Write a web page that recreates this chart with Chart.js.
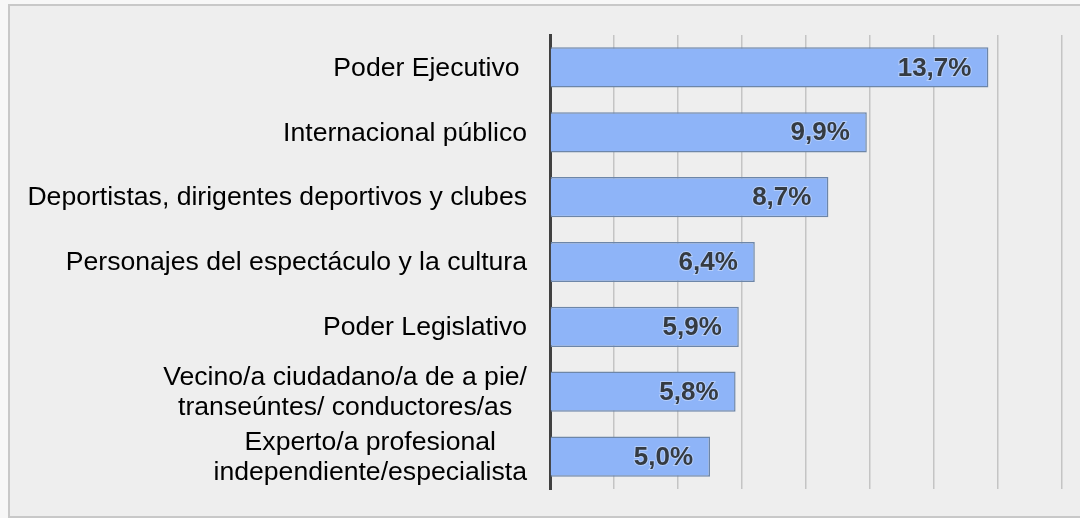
<!DOCTYPE html>
<html>
<head>
<meta charset="utf-8">
<script src="https://cdn.jsdelivr.net/npm/chart.js@4"></script>
<style>
    html, body { margin: 0; padding: 0; background: #f7f7f7; }
    #frame {
        position: absolute; left: 8px; top: 4px;
        width: 1100px; height: 510px;
        background: #eeeeee; border: 2px solid #c8c8c8;
    }
    #wrap { position: absolute; left: 0; top: 0; width: 1080px; height: 518px; }
</style>
</head>
<body>
<div id="frame"></div>
<div id="wrap"><canvas id="chart" width="1080" height="518"></canvas></div>
<script>
const categories = [
    'Poder Ejecutivo ',
    'Internacional público',
    'Deportistas, dirigentes deportivos y clubes',
    'Personajes del espectáculo y la cultura',
    'Poder Legislativo',
    ['Vecino/a ciudadano/a de a pie/', 'transeúntes/ conductores/as'],
    ['Experto/a profesional', 'independiente/especialista']
];
const values = [13.7, 9.9, 8.7, 6.4, 5.9, 5.8, 5.0];
const xTicks = [0, 2, 4, 6, 8, 10, 12, 14, 16];

const FONT = '"Liberation Sans", Arial, sans-serif';

// category labels, each block right-aligned, lines centred inside it
const catLabels = {
    id: 'catLabels',
    afterDraw(chart) {
        const c = chart.ctx;
        const y = chart.scales.y;
        const right = 527;
        const lh = 29.5;
        c.save();
        c.font = '26.6px ' + FONT;
        c.fillStyle = '#000';
        c.textAlign = 'center';
        c.textBaseline = 'middle';
        categories.forEach((lab, i) => {
            const lines = Array.isArray(lab) ? lab : [lab];
            const w = Math.max(...lines.map(l => c.measureText(l).width));
            const cx = right - w / 2;
            const cy = y.getPixelForValue(i) + 1;
            lines.forEach((l, j) => {
                c.fillText(l, cx, cy + (j - (lines.length - 1) / 2) * lh);
            });
        });
        c.restore();
    }
};

// value labels inside the bar ends
const valueLabels = {
    id: 'valueLabels',
    afterDatasetsDraw(chart) {
        const c = chart.ctx;
        const meta = chart.getDatasetMeta(0);
        c.save();
        c.font = 'bold 26px ' + FONT;
        c.textAlign = 'right';
        c.textBaseline = 'middle';
        c.lineWidth = 2;
        c.strokeStyle = 'rgba(255,255,255,0.35)';
        c.fillStyle = '#353b42';
        meta.data.forEach((bar, i) => {
            const txt = values[i].toFixed(1).replace('.', ',') + '%';
            c.strokeText(txt, bar.x - 17, bar.y + 1);
            c.fillText(txt, bar.x - 17, bar.y + 1);
        });
        c.restore();
    }
};

new Chart(document.getElementById('chart'), {
    type: 'bar',
    data: {
        labels: categories,
        datasets: [{
            data: values,
            backgroundColor: '#8eb4f8',
            borderColor: '#6d86a8',
            borderWidth: 1.5,
            borderSkipped: 'left',
            barPercentage: 0.62,
            categoryPercentage: 1
        }]
    },
    options: {
        indexAxis: 'y',
        responsive: false,
        animation: false,
        layout: { padding: { left: 10, right: 18, top: 35, bottom: 29 } },
        plugins: { legend: { display: false }, tooltip: { enabled: false } },
        scales: {
            x: {
                min: 0, max: 16,
                afterBuildTicks(s) { s.ticks = xTicks.map(v => ({ value: v })); },
                ticks: { display: false },
                grid: { color: '#c4c4c4', lineWidth: 1.5, drawTicks: false },
                border: { display: false }
            },
            y: {
                ticks: { display: false },
                grid: { display: false, drawTicks: false },
                border: { display: true, color: '#404040', width: 3 },
                afterFit(s) { s.width = 540; }
            }
        }
    },
    plugins: [catLabels, valueLabels]
});
</script>
</body>
</html>
